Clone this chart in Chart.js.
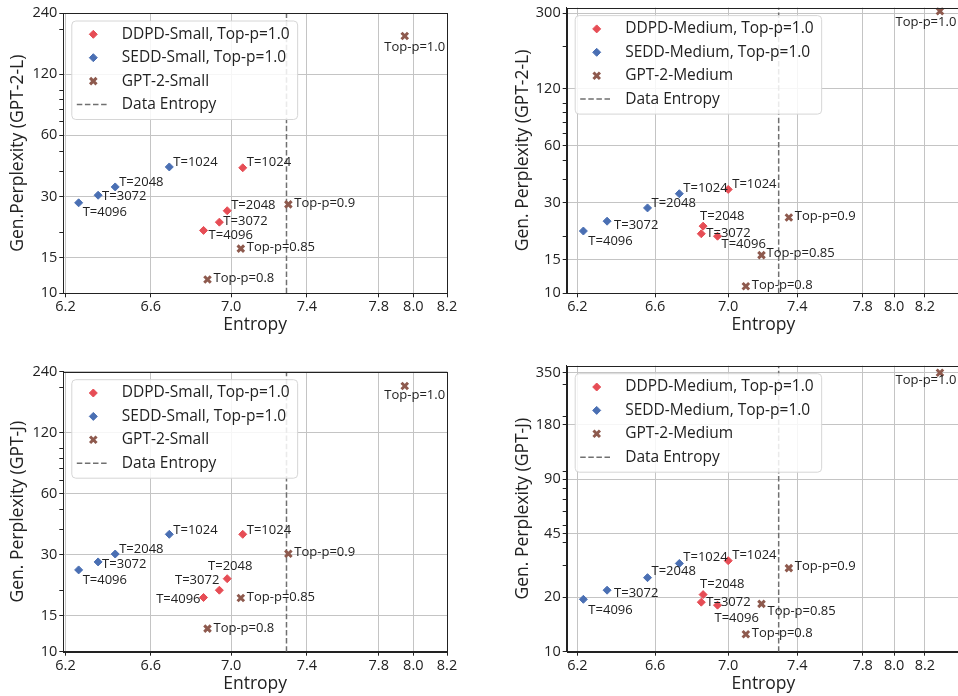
<!DOCTYPE html>
<html lang="en">
<head>
  <meta charset="UTF-8" />
  <title>Gen. Perplexity vs Entropy</title>
  <script src="https://cdn.jsdelivr.net/npm/chart.js"></script>
  <style>
    body {
      margin: 0;
      background: #fff;
      width: 958px;
      height: 696px;
      overflow: hidden;
      position: relative;
    }
    canvas { position: absolute; }
  </style>
</head>
<body>
  <canvas id="tl"></canvas>
  <canvas id="tr"></canvas>
  <canvas id="bl"></canvas>
  <canvas id="br"></canvas>

  <script>
    const xTicks = [6.2, 6.6, 7.0, 7.4, 7.8, 8.0, 8.2];
    const yTicksSmall = [10, 15, 30, 60, 120, 240];
    const yTicksMedL = [10, 15, 30, 60, 120, 300];
    const yTicksMedJ = [10, 20, 45, 90, 180, 350];
    const yMinorTicks = [20, 30, 40, 50, 60, 70, 80, 90, 100, 200, 300];

    const tLabels = ['T=1024', 'T=2048', 'T=3072', 'T=4096'];
    const topPLabels = ['Top-p=1.0', 'Top-p=0.9', 'Top-p=0.85', 'Top-p=0.8'];
    const dataEntropy = 7.29;

    // small models
    const ddpdSmallEnt = [7.06, 6.98, 6.94, 6.86];
    const seddSmallEnt = [6.69, 6.43, 6.35, 6.26];
    const gptSmallEnt = [7.95, 7.30, 7.05, 6.88];
    const ddpdSmallPplL = [41.5, 25.5, 22.4, 20.4];
    const seddSmallPplL = [41.9, 33.4, 30.4, 27.9];
    const gptSmallPplL = [185, 27.4, 16.6, 11.7];
    const ddpdSmallPplJ = [37.9, 22.9, 20.1, 18.5];
    const seddSmallPplJ = [37.9, 30.3, 27.7, 25.3];
    const gptSmallPplJ = [204, 30.4, 18.4, 13.0];

    // medium models
    const ddpdMedEnt = [7.00, 6.86, 6.85, 6.94];
    const seddMedEnt = [6.73, 6.56, 6.35, 6.23];
    const gptMedEnt = [8.30, 7.35, 7.19, 7.10];
    const ddpdMedPplL = [35.3, 22.6, 20.6, 20.0];
    const seddMedPplL = [33.5, 28.2, 24.0, 21.3];
    const gptMedPplL = [307, 25.1, 15.9, 10.9];
    const ddpdMedPplJ = [31.9, 20.7, 18.8, 18.1];
    const seddMedPplJ = [30.8, 25.7, 21.9, 19.5];
    const gptMedPplJ = [350, 29.0, 18.4, 12.5];

    const RED = '#e64d55';
    const BLUE = '#4a6fb3';
    const BROWN = '#8e5a4e';
    const GRID = '#c4c4c4';
    const INK = '#222';

    Chart.defaults.font.family = '"Open Sans", sans-serif';
    Chart.defaults.color = INK;

    // matplotlib-like box around the axes
    const frame = {
      id: 'frame',
      afterDatasetsDraw(chart) {
        const { ctx, chartArea: a } = chart;
        ctx.save();
        ctx.strokeStyle = INK;
        ctx.lineWidth = 1;
        const l = Math.round(a.left) + 0.5, t = Math.round(a.top) + 0.5;
        const r = Math.round(a.right) + 0.5, b = Math.round(a.bottom) + 0.5;
        ctx.strokeRect(l, t, r - l, b - t);
        ctx.restore();
      }
    };

    // text next to each point
    const pointText = {
      id: 'pointText',
      afterDatasetsDraw(chart) {
        const ctx = chart.ctx;
        ctx.save();
        ctx.font = '13px "Open Sans"';
        ctx.fillStyle = INK;
        ctx.textBaseline = 'middle';
        chart.data.datasets.forEach((ds, i) => {
          if (!ds.texts) return;
          chart.getDatasetMeta(i).data.forEach((pt, j) => {
            const [dx, dy, align] = ds.textPos[j];
            ctx.textAlign = align || 'left';
            ctx.fillText(ds.texts[j], pt.x + dx, pt.y + dy);
          });
        });
        ctx.restore();
      }
    };

    // legend drawn inside the plot, upper left
    const boxLegend = {
      id: 'boxLegend',
      afterDraw(chart) {
        const { ctx, chartArea: a } = chart;
        const items = chart.data.datasets;
        ctx.save();
        ctx.font = '15.5px "Open Sans"';
        const w = 50 + Math.max(...items.map(d => ctx.measureText(d.label).width)) + 8;
        const x0 = a.left + 8.5, y0 = a.top + 8, h = 98.5;
        ctx.fillStyle = 'rgba(255,255,255,0.85)';
        ctx.strokeStyle = '#d6d6d6';
        ctx.lineWidth = 1;
        ctx.beginPath();
        ctx.roundRect(x0, y0, w, h, 4);
        ctx.fill();
        ctx.stroke();
        items.forEach((d, i) => {
          const y = y0 + 13.3 + i * 23.4;
          if (d.showLine) {
            ctx.save();
            ctx.strokeStyle = d.borderColor;
            ctx.lineWidth = d.borderWidth;
            ctx.setLineDash(d.borderDash);
            ctx.beginPath();
            ctx.moveTo(x0 + 5, y);
            ctx.lineTo(x0 + 37, y);
            ctx.stroke();
            ctx.restore();
          } else {
            ctx.fillStyle = d.backgroundColor;
            ctx.strokeStyle = d.borderColor;
            ctx.lineWidth = d.pointBorderWidth;
            Chart.helpers.drawPoint(ctx, {
              pointStyle: d.pointStyle, radius: d.pointRadius,
              borderWidth: d.pointBorderWidth, rotation: 0
            }, x0 + 21.5, y);
          }
          ctx.fillStyle = INK;
          ctx.textBaseline = 'middle';
          ctx.textAlign = 'left';
          ctx.fillText(d.label, x0 + 50, y);
        });
        ctx.restore();
      }
    };

    const pts = (xs, ys) => xs.map((x, i) => ({ x: x, y: ys[i] }));

    function makeChart(p) {
      const el = document.getElementById(p.id);
      el.width = p.w;
      el.height = p.h;
      el.style.left = p.left + 'px';
      el.style.top = p.top + 'px';
      const yAll = [...new Set([...p.yMajor, ...yMinorTicks])]
        .filter(v => v >= 10 && v <= p.yMax).sort((a, b) => a - b);

      return new Chart(el, {
        type: 'scatter',
        data: {
          datasets: [
            {
              label: p.names[0], data: pts(p.ddpdX, p.ddpdY),
              pointStyle: 'rectRot', pointRadius: 4, pointBorderWidth: 1,
              backgroundColor: RED, borderColor: RED,
              texts: tLabels, textPos: p.pos[0]
            },
            {
              label: p.names[1], data: pts(p.seddX, p.seddY),
              pointStyle: 'rectRot', pointRadius: 4, pointBorderWidth: 1,
              backgroundColor: BLUE, borderColor: BLUE,
              texts: tLabels, textPos: p.pos[1]
            },
            {
              label: p.names[2], data: pts(p.gptX, p.gptY),
              pointStyle: 'crossRot', pointRadius: 4.6, pointBorderWidth: 3,
              backgroundColor: BROWN, borderColor: BROWN,
              texts: topPLabels, textPos: p.pos[2]
            },
            {
              label: 'Data Entropy',
              data: [{ x: dataEntropy, y: 10 }, { x: dataEntropy, y: p.yMax }],
              showLine: true, pointRadius: 0, borderWidth: 1.5,
              borderColor: '#707070', borderDash: [5.5, 2.6], order: 10
            }
          ]
        },
        options: {
          responsive: false,
          animation: false,
          devicePixelRatio: 1,
          events: [],
          layout: { padding: p.pad },
          plugins: { legend: { display: false }, tooltip: { enabled: false } },
          scales: {
            x: {
              type: 'logarithmic', min: p.xMin, max: p.xMax,
              afterBuildTicks: s => {
                s.ticks = xTicks.map(v => ({ value: v }));
                s.min = p.xMin;
                s.max = p.xMax;
              },
              afterFit: s => { s.height = 44; s.paddingLeft = 0; s.paddingRight = 0; },
              ticks: {
                autoSkip: false, maxRotation: 0, padding: 1,
                font: { size: 14.5 }, color: INK,
                callback: v => Number(v).toFixed(1)
              },
              grid: { color: GRID, tickColor: INK, tickLength: 4 },
              border: { color: INK },
              title: {
                display: true, text: 'Entropy', color: INK,
                font: { size: 17.5 }, padding: { top: 0, bottom: 1.5 }
              }
            },
            y: {
              type: 'logarithmic', min: 10, max: p.yMax,
              afterBuildTicks: s => {
                s.ticks = yAll.map(v => ({ value: v }));
                s.min = 10;
                s.max = p.yMax;
              },
              afterFit: s => { s.width = p.yw; s.paddingTop = 0; s.paddingBottom = 0; },
              ticks: {
                autoSkip: false, padding: 2,
                font: { size: 14.5 }, color: INK,
                callback: v => p.yMajor.includes(v) ? String(v) : ''
              },
              grid: {
                color: c => (c.tick && p.yMajor.includes(c.tick.value)) ? GRID : 'rgba(0,0,0,0)',
                tickColor: INK, tickLength: 4
              },
              border: { color: INK },
              title: {
                display: true, text: p.yTitle, color: INK,
                font: { size: 17.5 }, padding: { top: p.yTitlePad, bottom: 0 }
              }
            }
          }
        },
        plugins: [frame, pointText, boxLegend]
      });
    }

    const smallNames = ['DDPD-Small, Top-p=1.0', 'SEDD-Small, Top-p=1.0', 'GPT-2-Small', 'Data Entropy'];
    const medNames = ['DDPD-Medium, Top-p=1.0', 'SEDD-Medium, Top-p=1.0', 'GPT-2-Medium', 'Data Entropy'];

    makeChart({
      id: 'tl', left: 0, top: 0, w: 480, h: 340,
      pad: { left: 0, top: 13, right: 33, bottom: 2.7 }, yw: 63.3, yTitlePad: 7.8,
      xMin: 6.19, xMax: 8.2, yMax: 240, yMajor: yTicksSmall,
      yTitle: 'Gen.Perplexity (GPT-2-L)', names: smallNames,
      ddpdX: ddpdSmallEnt, ddpdY: ddpdSmallPplL,
      seddX: seddSmallEnt, seddY: seddSmallPplL,
      gptX: gptSmallEnt, gptY: gptSmallPplL,
      pos: [
        [[4, -5], [4, -5], [4, -1], [5, 5]],
        [[4, -4.5], [4, -5], [4, 1], [4, 9.5]],
        [[10, 11.6, 'center'], [6, -1], [6, -1], [6, -1]]
      ]
    });

    makeChart({
      id: 'tr', left: 480, top: 0, w: 490, h: 340,
      pad: { left: 0, top: 7, right: 10, bottom: 2.7 }, yw: 86.7, yTitlePad: 32.8,
      xMin: 6.147, xMax: 8.435, yMax: 321, yMajor: yTicksMedL,
      yTitle: 'Gen. Perplexity (GPT-2-L)', names: medNames,
      ddpdX: ddpdMedEnt, ddpdY: ddpdMedPplL,
      seddX: seddMedEnt, seddY: seddMedPplL,
      gptX: gptMedEnt, gptY: gptMedPplL,
      pos: [
        [[4, -5], [-3, -10], [5, 0], [4, 8]],
        [[4, -5], [4, -5], [7, 4], [5, 10]],
        [[-14, 11, 'center'], [6, -1], [5, -2], [6, -1]]
      ]
    });

    makeChart({
      id: 'bl', left: 0, top: 340, w: 480, h: 356,
      pad: { left: 0, top: 31.7, right: 33, bottom: 0.3 }, yw: 63.3, yTitlePad: 7.8,
      xMin: 6.19, xMax: 8.2, yMax: 240, yMajor: yTicksSmall,
      yTitle: 'Gen. Perplexity (GPT-J)', names: smallNames,
      ddpdX: ddpdSmallEnt, ddpdY: ddpdSmallPplJ,
      seddX: seddSmallEnt, seddY: seddSmallPplJ,
      gptX: gptSmallEnt, gptY: gptSmallPplJ,
      pos: [
        [[4, -4.3], [3, -12, 'center'], [0, -10, 'right'], [-3, 2, 'right']],
        [[4, -4.3], [4, -4.7], [4, 2.3], [4, 10.7]],
        [[10, 9.7, 'center'], [6, -1], [6, -1], [6, 0]]
      ]
    });

    makeChart({
      id: 'br', left: 480, top: 340, w: 490, h: 356,
      pad: { left: 0, top: 25.7, right: 10, bottom: 0.3 }, yw: 86.7, yTitlePad: 32.8,
      xMin: 6.147, xMax: 8.435, yMax: 383, yMajor: yTicksMedJ,
      yTitle: 'Gen. Perplexity (GPT-J)', names: medNames,
      ddpdX: ddpdMedEnt, ddpdY: ddpdMedPplJ,
      seddX: seddMedEnt, seddY: seddMedPplJ,
      gptX: gptMedEnt, gptY: gptMedPplJ,
      pos: [
        [[4, -5], [-3, -10], [5, 0], [-3, 13]],
        [[4, -6], [4, -6], [7, 3], [5, 11]],
        [[-14, 8, 'center'], [6, -2], [6, 7], [6, -1]]
      ]
    });
  </script>
</body>
</html>
